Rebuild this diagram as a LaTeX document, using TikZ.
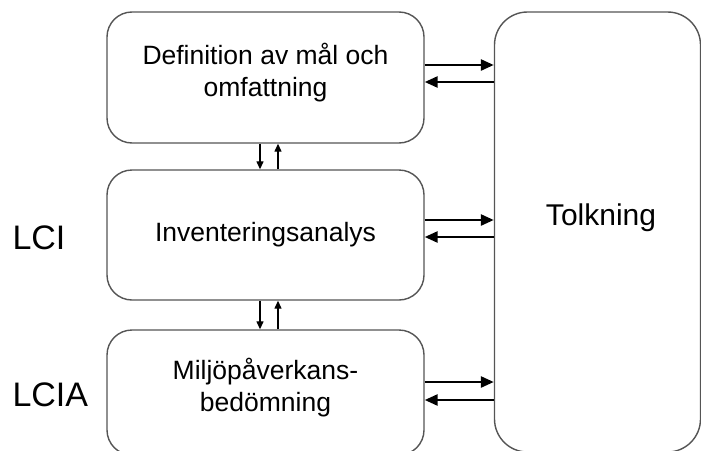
\documentclass[tikz,border=0pt]{standalone}
\usepackage{fontspec}
\setmainfont{Liberation Sans}
\definecolor{box-line}{RGB}{85,85,85}
\usetikzlibrary{arrows.meta, positioning, calc}

\begin{document}
\begin{tikzpicture}[
    x=1pt, y=-1pt,
    phase/.style={rectangle, draw=box-line, line width=1.4pt, rounded corners=25pt, minimum width=317pt, align=center, font=\fontsize{26.5}{32.5}\selectfont},
    tolkbox/.style={phase, rounded corners=33pt, minimum width=206pt, minimum height=440pt},
    sidelabel/.style={anchor=west, font=\fontsize{34}{38}\selectfont},
    harrow/.style={-{Triangle[length=13pt, width=11pt]}, line width=2.6pt},
    varrow/.style={-{Triangle[length=8pt, width=7pt]}, line width=1.3pt}
]
    \useasboundingbox (0,0) rectangle (701,450);

    \node[phase, minimum height=131pt, text depth=15pt] (def) at (265.5,77.5) {Definition av mål och\\omfattning};
    \node[phase, minimum height=130pt] (inv) at (265.5,235) {Inventeringsanalys};
    \node[phase, minimum height=125pt, text depth=15pt] (mil) at (265.5,392.5) {Miljöpåverkans-\\bedömning};
    \node[tolkbox] (tolk) at (597.5,232) {};
    \node[font=\fontsize{30}{34}\selectfont] (tolktext) at (601,218) {Tolkning};

    % LCI / LCIA
    \node[sidelabel] (lci) at (9,238) {LCI};
    \node[sidelabel] (lcia) at (9,395) {LCIA};

    % mellan faserna
    \draw[varrow] ([xshift=-5.5pt]def.south) -- ([xshift=-5.5pt]inv.north);
    \draw[varrow] ([xshift=12.5pt]inv.north) -- ([xshift=12.5pt]def.south);
    \draw[varrow] ([xshift=-5.5pt]inv.south) -- ([xshift=-5.5pt]mil.north);
    \draw[varrow] ([xshift=12.5pt]mil.north) -- ([xshift=12.5pt]inv.south);

    % till och från tolkning
    \draw[harrow] ([yshift=12.5pt]def.east) -- ([yshift=12.5pt]def.east -| tolk.west);
    \draw[harrow] ([yshift=-4.5pt]def.east -| tolk.west) -- ([yshift=-4.5pt]def.east);
    \draw[harrow] ([yshift=15pt]inv.east) -- ([yshift=15pt]inv.east -| tolk.west);
    \draw[harrow] ([yshift=-2pt]inv.east -| tolk.west) -- ([yshift=-2pt]inv.east);
    \draw[harrow] ([yshift=10.5pt]mil.east) -- ([yshift=10.5pt]mil.east -| tolk.west);
    \draw[harrow] ([yshift=-7.5pt]mil.east -| tolk.west) -- ([yshift=-7.5pt]mil.east);
\end{tikzpicture}
\end{document}
